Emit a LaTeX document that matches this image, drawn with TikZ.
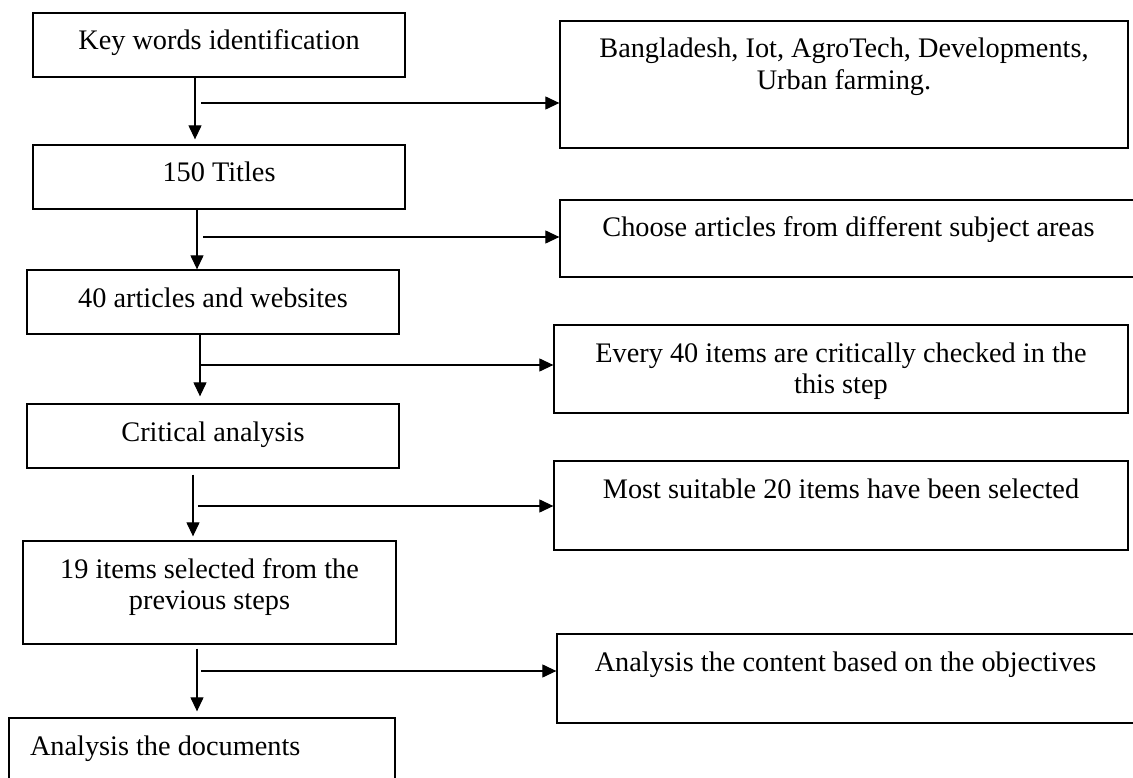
\documentclass[tikz,border=0pt]{standalone}
\usepackage{fontspec}
\setmainfont{Liberation Serif}
\usetikzlibrary{arrows.meta}

\begin{document}
\begin{tikzpicture}[x=1pt, y=-1pt,
  stepbox/.style={draw, line width=1.3pt, inner sep=0pt, text height=20pt,
    font=\fontsize{28.3}{31.5}\selectfont},
  flow/.style={line width=1.2pt, -{Triangle[length=14pt, width=13pt]}}]
\useasboundingbox (0,0) rectangle (1133,778);

% Left column: the search steps
\node[stepbox, minimum width=372pt, minimum height=64pt, text depth=10pt] (keywords) at (219,45) {Key words identification};
\node[stepbox, minimum width=372pt, minimum height=64pt, text depth=10pt] (titles) at (219,177) {150 Titles};
\node[stepbox, minimum width=372pt, minimum height=64pt, text depth=10pt] (articles) at (213,302) {40 articles and websites};
\node[stepbox, minimum width=372pt, minimum height=64pt, text depth=10pt] (critical) at (213,436) {Critical analysis};
\node[stepbox, minimum width=373pt, minimum height=103pt, text depth=49pt,
  text width=340pt, align=flush center] (selected) at (209.5,592.5) {19 items selected from the\\previous steps};
\node[stepbox, minimum width=386pt, minimum height=100pt, text depth=46pt,
  text width=344pt, align=flush left] (docs) at (202,768) {Analysis the documents};

% Right column: what happens at each step
\node[stepbox, minimum width=568pt, minimum height=127pt, text depth=73pt,
  text width=540pt, align=flush center] (terms) at (844,84.5) {Bangladesh, Iot, AgroTech, Developments,\\Urban farming.};
\node[stepbox, minimum width=577pt, minimum height=77pt, text depth=23pt] (choose) at (848.5,238.5) {Choose articles from different subject areas};
\node[stepbox, minimum width=574pt, minimum height=88pt, text depth=34pt,
  text width=550pt, align=flush center] (check) at (841,369) {Every 40 items are critically checked in the\\this step};
\node[stepbox, minimum width=574pt, minimum height=89pt, text depth=35pt] (suitable) at (841,505.5) {Most suitable 20 items have been selected};
\node[stepbox, minimum width=577pt, minimum height=89pt, text depth=35pt] (content) at (845.5,678.5) {Analysis the content based on the objectives};

% Down the left column
\draw[flow, shorten >=5pt] ([xshift=-24pt]keywords.south) coordinate (v1) -- (v1 |- titles.north);
\draw[flow] ([xshift=-22pt]titles.south) coordinate (v2) -- (v2 |- articles.north);
\draw[flow, shorten >=7pt] ([xshift=-13pt]articles.south) coordinate (v3) -- (v3 |- critical.north);
\draw[flow, shorten <=6pt, shorten >=4pt] ([xshift=-20pt]critical.south) coordinate (v4) -- (v4 |- selected.north);
\draw[flow, shorten <=4pt, shorten >=6pt] ([xshift=-12.5pt]selected.south) coordinate (v5) -- (v5 |- docs.north);

% Across to the right column
\foreach \hx/\hy/\target in {201/103/terms, 203/237/choose, 200/365/check, 198/506/suitable, 201/671/content} {
  \coordinate (branch) at (\hx,\hy);
  \draw[flow] (branch) -- (branch -| \target.west);
}
\end{tikzpicture}
\end{document}
